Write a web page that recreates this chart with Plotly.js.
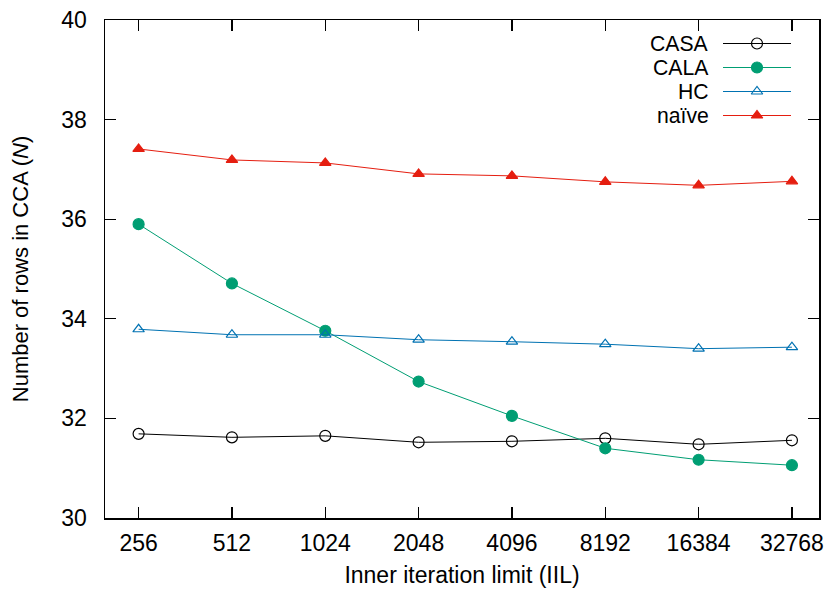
<!DOCTYPE html>
<html>
<head>
<meta charset="utf-8">
<script src="https://cdn.plot.ly/plotly-3.0.1.min.js"></script>
<style>html,body{margin:0;padding:0;background:#fff;}#chart{width:831px;height:589px;}</style>
</head>
<body>
<div id="chart"></div>
<script>
const iil = ['256','512','1024','2048','4096','8192','16384','32768'];
const casa  = [31.69, 31.62, 31.65, 31.52, 31.54, 31.60, 31.48, 31.56];
const cala  = [35.90, 34.71, 33.76, 32.74, 32.05, 31.40, 31.17, 31.06];
const hc    = [33.79, 33.68, 33.68, 33.58, 33.54, 33.49, 33.40, 33.43];
const naive = [37.41, 37.19, 37.13, 36.91, 36.87, 36.75, 36.68, 36.76];
const seriesNames = ['CASA', 'CALA', 'HC', 'naïve'];
const yTicks = [30, 32, 34, 36, 38, 40];

const styles = [
  {color: '#000000', symbol: 'circle-open', size: 11},
  {color: '#009e73', symbol: 'circle', size: 11},
  {color: '#0072b2', symbol: 'triangle-up-open', size: 10},
  {color: '#e51e10', symbol: 'triangle-up', size: 10}
];
const values = [casa, cala, hc, naive];
const FONT = 'Liberation Sans, Arial, sans-serif';
const FS = 23;
const LEG_FS = 21.2;

const traces = values.map((v, i) => ({
  x: iil, y: v, type: 'scatter', mode: 'lines+markers', name: seriesNames[i],
  line: {color: styles[i].color, width: 1},
  marker: {symbol: styles[i].symbol, size: styles[i].size, color: styles[i].color,
           line: {color: styles[i].color, width: 1.2}},
  showlegend: false, cliponaxis: false
}));

// custom legend (text right-aligned, sample to the right like gnuplot)
const legRows = [43.5, 67.5, 91.5, 115.5];
const shapes = [];
const annotations = [];
seriesNames.forEach((n, i) => {
  annotations.push({xref: 'paper', yref: 'paper', x: (710 - 105) / 714, y: 1 - (legRows[i] - 20) / 498,
    xanchor: 'right', yanchor: 'middle', showarrow: false, text: n, borderpad: 0,
    font: {family: FONT, size: LEG_FS, color: '#000'}});
  shapes.push({type: 'line', xref: 'paper', yref: 'paper',
    x0: (723 - 105) / 714, x1: (791 - 105) / 714,
    y0: 1 - (legRows[i] - 20) / 498, y1: 1 - (legRows[i] - 20) / 498,
    line: {color: styles[i].color, width: 1}});
  traces.push({x: [(757 - 105) / 714], y: [1 - (legRows[i] - 20) / 498], xaxis: 'x2', yaxis: 'y2',
    type: 'scatter', mode: 'markers', showlegend: false, hoverinfo: 'skip',
    marker: {symbol: styles[i].symbol, size: styles[i].size, color: styles[i].color,
             line: {color: styles[i].color, width: 1.2}}});
});

const layout = {
  width: 831, height: 589,
  margin: {l: 105, r: 12, t: 20, b: 71},
  paper_bgcolor: '#fff', plot_bgcolor: '#fff',
  font: {family: FONT, size: FS, color: '#000'},
  showlegend: false,
  xaxis: {
    type: 'category', range: [-0.36, 7.29],
    tickvals: iil, ticktext: iil,
    ticks: 'inside', ticklen: 11, tickwidth: 1.2, tickcolor: '#000',
    showline: true, linecolor: '#000', linewidth: 1.5, mirror: 'ticks',
    showgrid: false, zeroline: false, ticklabelstandoff: 4,
    tickfont: {family: FONT, size: FS},
    title: {text: 'Inner iteration limit (IIL)', font: {family: FONT, size: FS}, standoff: 12}
  },
  yaxis: {
    range: [30, 40], tickvals: yTicks,
    ticks: 'inside', ticklen: 11, tickwidth: 1.2, tickcolor: '#000',
    showline: true, linecolor: '#000', linewidth: 1.5, mirror: 'ticks',
    showgrid: false, zeroline: false, ticklabelstandoff: 12,
    tickfont: {family: FONT, size: FS},
    title: {text: 'Number of rows in CCA (<i>N</i>)', font: {family: FONT, size: 22}, standoff: 26}
  },
  xaxis2: {overlaying: 'x', range: [0, 1], visible: false, fixedrange: true},
  yaxis2: {overlaying: 'y', range: [0, 1], visible: false, fixedrange: true},
  shapes: shapes,
  annotations: annotations
};

Plotly.newPlot('chart', traces, layout, {staticPlot: true, displayModeBar: false});
</script>
</body>
</html>
